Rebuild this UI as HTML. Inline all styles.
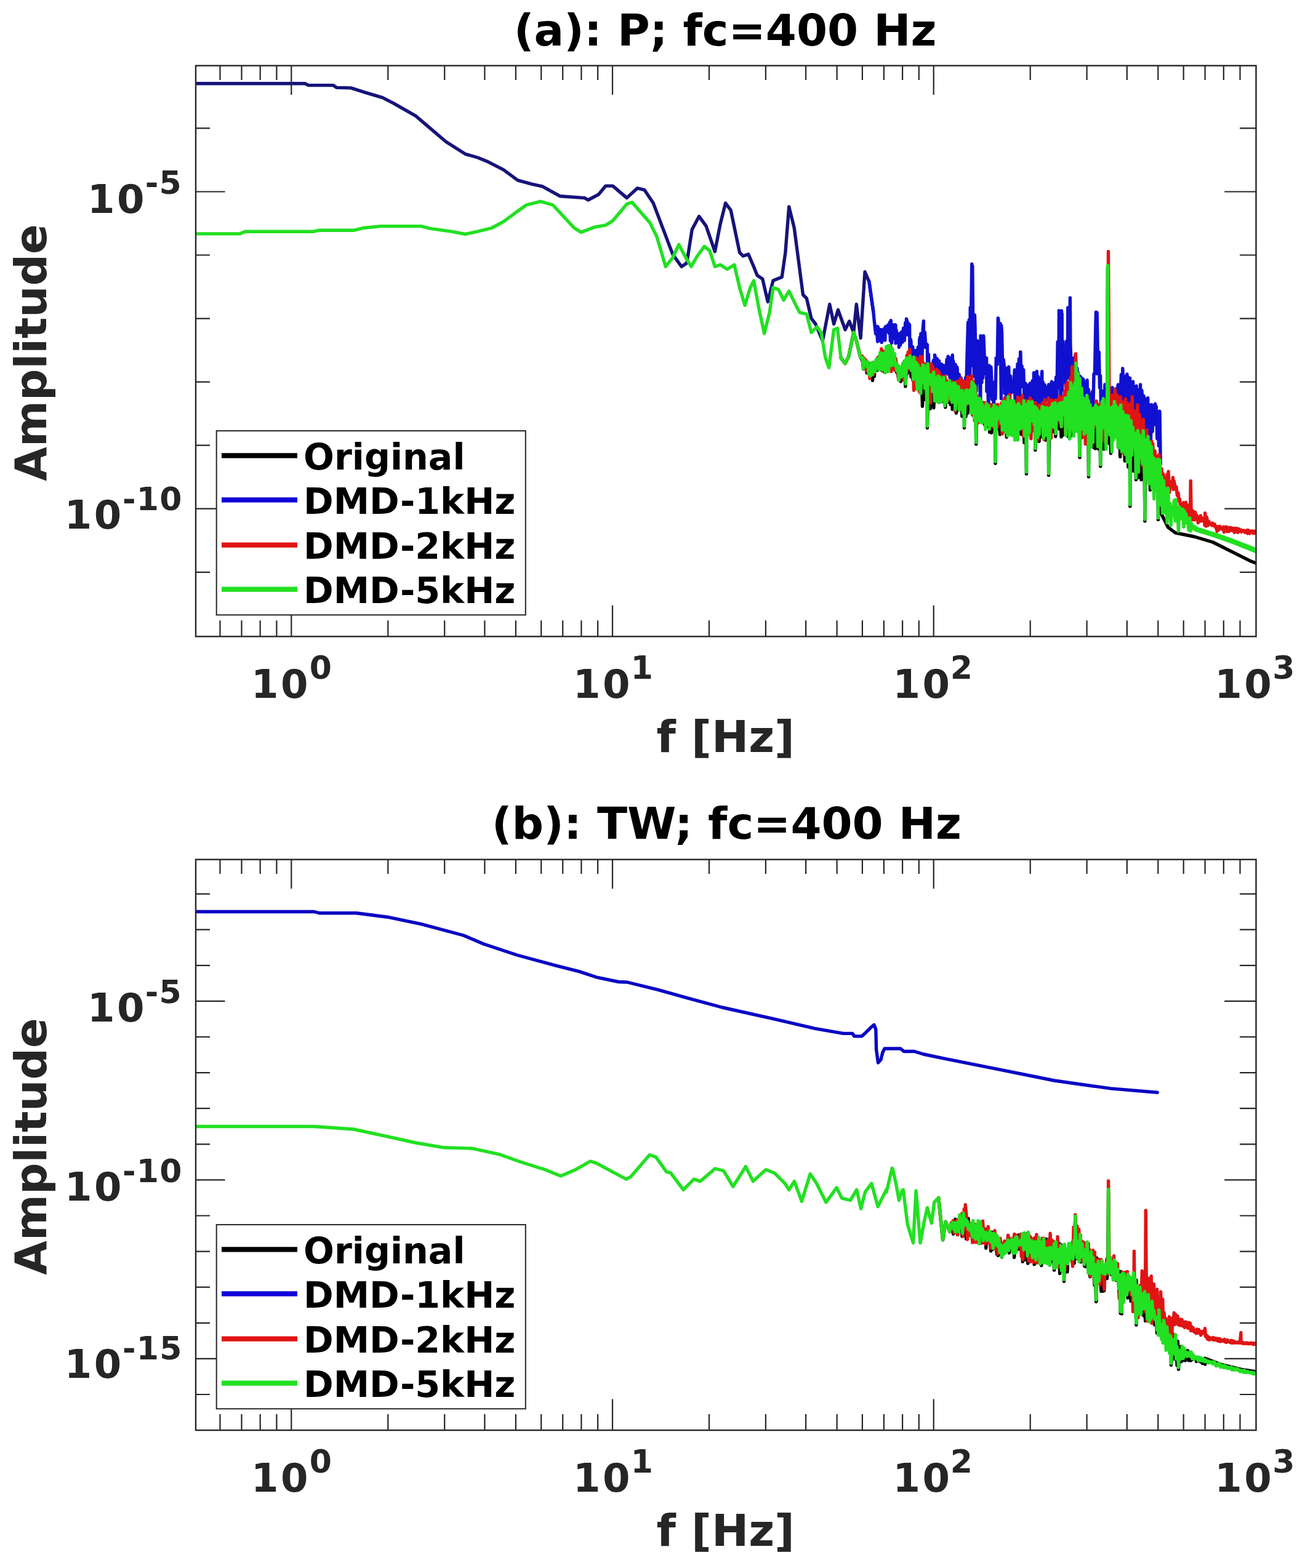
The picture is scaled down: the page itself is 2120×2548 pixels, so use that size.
<!DOCTYPE html>
<html><head><meta charset="utf-8"><title>DMD spectra</title>
<style>html,body{margin:0;padding:0;background:#fff;}body{width:2120px;height:2548px;overflow:hidden;}svg{display:block;}</style>
</head><body>
<svg width="2120" height="2548" viewBox="0 0 2120 2548">
<rect x="0" y="0" width="2120" height="2548" fill="#fff"/>
<defs>
<clipPath id="clipa"><rect x="318" y="106.7" width="1722.5" height="927.6"/></clipPath>
<clipPath id="clipb"><rect x="318" y="1396.7" width="1722.5" height="927.4"/></clipPath>
</defs>
<g clip-path="url(#clipa)">
<path d="M1366.1 581.5 L1373 590.6 L1378.7 579.2 L1386.7 540.3 L1391.3 554 L1398.1 581.5 L1401 585.8 L1402.6 599.5 L1403.6 584.5 L1404.8 598.2 L1406.6 594.1 L1408.1 606 L1409.7 592 L1411 604.7 L1412.9 594.3 L1414.6 606.2 L1416.2 596.1 L1417.5 618.3 L1418.4 590.8 L1420.3 611.7 L1421.2 601 L1423.1 599.2 L1424.4 583.7 L1425.6 601.8 L1426.6 587.2 L1427.5 593.2 L1429.3 579.9 L1430.6 599.6 L1432 576.1 L1432.8 602.2 L1434.8 585.7 L1436.3 594.1 L1437.6 579.9 L1439.2 588 L1440.3 572.4 L1441.7 603.4 L1443.1 564.2 L1444.9 592.9 L1446.3 568.5 L1447.6 594.3 L1449.3 569.1 L1450.8 592.1 L1452.4 574.6 L1453.5 601 L1455.1 585.5 L1456.4 604.8 L1457.6 599.2 L1459.5 614.5 L1461.4 600.2 L1463.3 620.1 L1464.3 609.9 L1466.2 610.7 L1467.3 604.8 L1468.6 612.3 L1469.4 586.9 L1470.9 627.9 L1472.9 588.7 L1473.8 607.6 L1475.5 592.9 L1477 603.9 L1478.5 583 L1480 612.3 L1481.9 603.2 L1482.9 617.6 L1484.8 590.5 L1486.7 630.6 L1488.3 607.7 L1489.4 626.9 L1490.5 610.5 L1492.1 625.8 L1493.9 604.7 L1495 637.8 L1497 607.5 L1498.5 660.2 L1500.4 613.4 L1501.7 649.2 L1503.6 614 L1505.1 640.2 L1506.3 616 L1506.4 695.3 L1507.8 628.4 L1509.4 627 L1511.2 664.1 L1513 619.7 L1514.8 645.3 L1515.7 615.4 L1516.9 662.7 L1518.5 621 L1520 636.5 L1521.5 625.4 L1522.8 639.9 L1524.1 617 L1525.7 636.7 L1526.6 617.5 L1528.2 653 L1529.8 632.6 L1531.1 635.6 L1532.4 624 L1533.5 653.5 L1534.7 621.4 L1535.9 661.8 L1536.8 625.5 L1537.9 644.4 L1539.2 624.6 L1541.1 653.5 L1542.7 624.6 L1544.1 657.4 L1545.9 627.2 L1547.2 665.1 L1549 627.4 L1550.4 664.2 L1551.7 637.7 L1553.3 671.3 L1554.8 640.6 L1556 666.9 L1557.2 639.4 L1558.5 658.2 L1559.4 636.4 L1560.9 658.9 L1561.8 650.1 L1562.9 676.3 L1564.5 644.5 L1566.3 677.2 L1566.5 695.3 L1567.5 636 L1569 677.1 L1570.6 648.1 L1571.9 671.5 L1573 636.8 L1574.3 664.3 L1575.5 645.6 L1576.6 657.9 L1577.7 649.3 L1579.1 651.6 L1580.9 644.8 L1582.7 666.6 L1584.3 638.9 L1585.3 687.9 L1585.8 721.8 L1587.1 647.3 L1588.9 669.5 L1590.1 649 L1591.1 674.7 L1592.8 657.1 L1593.8 677.3 L1595 670.6 L1596.5 677.2 L1598.1 666.3 L1599.5 690.1 L1601.1 673.5 L1602.5 693.8 L1603.8 670.6 L1605.1 688.8 L1606.5 672.8 L1607.7 702.1 L1609.1 676.2 L1610.7 703.5 L1612.3 668 L1613.6 695.2 L1615.3 676.4 L1616.2 681.4 L1617 753 L1617.2 660.1 L1618.1 679.9 L1619.2 660.3 L1620.8 696.3 L1622.8 678.7 L1624.4 706 L1625.3 661 L1627.2 692.8 L1628.2 671.6 L1629.6 695 L1630.8 655.7 L1631.7 697.4 L1633.6 675.1 L1635.3 710.3 L1636.5 652.2 L1638.4 699 L1640 645.8 L1641.1 696 L1642.8 673.3 L1644.4 692.6 L1645.7 676.4 L1647.7 699.9 L1648.7 671 L1650.2 695.7 L1651.3 663.7 L1652.8 687 L1654.2 680.9 L1655.9 691.7 L1657.2 655.2 L1658.9 705.7 L1659.9 668.7 L1661.4 703.7 L1662.7 661.4 L1663.9 719.3 L1665.1 667.3 L1666.5 688.8 L1667.5 769.9 L1667.8 658.3 L1669 695.9 L1670.2 680.5 L1671.4 694.7 L1673 664.3 L1674.4 706.5 L1675.3 673.2 L1676.3 692.3 L1678 683.3 L1679.6 690 L1680.9 663.6 L1681.9 731.4 L1682.7 692.7 L1683.8 674.6 L1685.3 705.4 L1686.7 684.4 L1688.1 717.3 L1689.3 671.5 L1690.6 710 L1692.3 666.4 L1693.7 710.5 L1695.1 678.5 L1696.6 710.2 L1697.9 669.1 L1698.7 715.2 L1700.4 670.2 L1702.4 714.4 L1703.4 680.9 L1703.6 772.3 L1704.7 694.8 L1705.8 668.8 L1706.7 685.6 L1707.7 665.3 L1708.7 687.2 L1710.5 666.1 L1711.9 701.7 L1713.8 658.6 L1714.8 709.3 L1716.7 678.6 L1718.1 692 L1719.2 677.1 L1720.9 697.3 L1722.6 656.9 L1724 709.9 L1725 665.2 L1726.1 707.7 L1727.8 663.8 L1729.2 675.4 L1730.6 652.1 L1731.8 676.4 L1733.7 653.3 L1735.2 709.1 L1737 647.6 L1738.5 709.4 L1739.7 658 L1740.6 706.6 L1742 641 L1744 670.3 L1745.3 646.1 L1747 690.6 L1748 593 L1748.7 642.1 L1750.5 700.5 L1751.7 624.4 L1752.7 669 L1753.5 660.7 L1754.1 743.4 L1754.5 699.9 L1755.5 661.6 L1757 675.6 L1758.7 661.2 L1760.7 683.9 L1762 658.5 L1763.1 705.8 L1764.7 668.1 L1766.5 718.2 L1767.7 674.2 L1768.5 774.7 L1769 693.2 L1769.9 671.8 L1771.1 690.8 L1772.5 666.2 L1773.7 712.6 L1775.1 672.4 L1777.1 727.4 L1778.3 686.2 L1779.4 728.9 L1780.4 669.5 L1782.2 717.6 L1783.9 662.9 L1784.8 729.7 L1785.8 660.1 L1787.1 723.6 L1787.7 757.8 L1788.7 687.2 L1790.4 706 L1792.3 659.5 L1793.2 729.8 L1795 673 L1796.4 696 L1797.4 650.8 L1798.4 709.7 L1799.5 434.5 L1800.2 685.1 L1801.6 720.3 L1803 679.8 L1804.6 736.7 L1806.4 677 L1807.9 698.5 L1809.3 668.6 L1810.3 701 L1811.6 658.2 L1813.2 708.3 L1815.1 679.7 L1816.5 714.9 L1817.8 662.2 L1819.7 742.3 L1821.3 685.5 L1822.3 726.9 L1823.3 675.6 L1824.8 712.2 L1825.9 695.2 L1827.3 749 L1828.3 674.2 L1830.2 739.1 L1831.8 697 L1832.8 758.7 L1834.2 713.3 L1835.2 730.1 L1835.8 822.7 L1836.7 693.1 L1838.5 733.5 L1839.4 694.3 L1840.6 765.2 L1842.4 715 L1843.7 729.7 L1845.4 779.5 L1845.5 697.1 L1846.5 750.4 L1848.3 700.6 L1849.2 776 L1850.1 723.2 L1851.1 749.1 L1852.2 712.8 L1854 779.6 L1855.5 702.3 L1856.5 755.9 L1858.2 739.9 L1859.1 761.5 L1859.9 846.8 L1861 711.7 L1862 761.9 L1863.8 719.8 L1865.4 759.4 L1867 721.1 L1868.5 796.2 L1870.4 738.1 L1872.3 785.1 L1874.2 764.3 L1876.2 776.3 L1877.3 760.8 L1879.1 788.9 L1880.8 758.6 L1881.5 844.4 L1881.7 784.9 L1882.5 752.1 L1884.4 817.9 L1885.4 832.5 L1897.5 856.8 L1909.5 865.9 L1939.9 872 L1970.2 881 L2030.8 911.4 L2040 915" fill="none" stroke="#000" stroke-width="5.4" stroke-linejoin="round" stroke-linecap="round"/>
<path d="M318 135.8 L495.4 135.8 L501.2 138.6 L541.2 138.6 L547 142.4 L569.9 142.9 L592.8 150.1 L621.4 158.7 L638.5 167.3 L675.8 188.7 L695.8 205.9 L724.4 230.2 L755.9 250.3 L775.9 256 L793.1 263.1 L818 275.8 L840.9 292.9 L863.8 299.2 L881 302.9 L909.6 318.7 L949.7 321.6 L955.4 325 L972.6 315.8 L984 302.1 L995.4 302.1 L1018.3 321.6 L1035.5 305.8 L1047 308.7 L1061.3 330.1 L1092.8 413.1 L1107.1 433.2 L1115.7 427.4 L1124.2 373.1 L1135.7 351.6 L1147.1 367.3 L1161.4 408.8 L1170 364.5 L1178.6 330.1 L1187.2 341.6 L1201.5 410.3 L1207.2 416 L1215.8 413.1 L1224.4 433.2 L1230.1 447.5 L1238.7 453.2 L1247.3 490.4 L1255.9 456.1 L1270.2 450.3 L1275.9 410.3 L1281.7 335.9 L1290.2 370.2 L1304.5 479 L1310.3 484.7 L1318 517.4 L1324.9 526.5 L1336.3 554 L1347.8 494.5 L1354.6 526.5 L1361.5 503.6 L1373 535.7 L1379.8 522 L1386.7 540.3 L1391.3 494.5 L1398.1 549.4 L1405 441.8 L1411.9 457.8 L1418.7 505.9" fill="none" stroke="#17137a" stroke-width="5.4" stroke-linejoin="round" stroke-linecap="round"/>
<path d="M1411.9 457.8 L1418.7 505.9 L1421 528.5 L1422.6 542.5 L1424 530.4 L1425.7 555 L1425.9 530.7 L1427.1 533.7 L1428.2 540.4 L1429.5 535.7 L1430.4 554.1 L1431.5 535.9 L1432.2 535.7 L1432.4 556.4 L1434.1 537 L1435.6 540.1 L1436.8 533.7 L1437.8 553 L1438.5 530.7 L1439 530.6 L1440.8 538.3 L1442.7 527.9 L1444.1 541.5 L1445.5 523.7 L1446.4 553.9 L1447.3 520.6 L1447.5 525.1 L1448.6 557.6 L1450.4 527.7 L1452.1 549.9 L1453.8 527.6 L1454.9 528.2 L1455.1 557.7 L1456.2 536.5 L1458 552.9 L1459.3 543.8 L1459.9 544.5 L1460.5 564.3 L1461.8 541.8 L1462.8 560.5 L1464.7 539.5 L1466.1 556 L1467.5 533.2 L1467.8 533.4 L1469.3 553.3 L1470.8 524.2 L1471.9 544.1 L1472.5 518.1 L1473.8 522.8 L1475.3 544.2 L1476.2 525.8 L1477.6 528.2 L1478 572.6 L1479.2 551.4 L1480 555.3 L1480.8 598.3 L1482.7 563.4 L1484.7 606.5 L1486.2 573.3 L1487.2 569.7 L1487.6 593.2 L1488.7 571.7 L1489.7 580.8 L1491.5 564.1 L1492.8 611 L1493.7 552.8 L1494.4 548.1 L1494.9 587.8 L1495.9 542.2 L1497.2 608.7 L1499.1 537 L1500.4 521.6 L1500.5 564.3 L1502.4 540 L1504 564.7 L1505.1 559 L1506.4 560.1 L1506.8 611.4 L1508.4 575.6 L1509.9 620.3 L1511 593 L1511.3 591.4 L1512.2 622.9 L1513 592.1 L1514.9 598.7 L1516.4 585.8 L1518.2 616.1 L1518.5 576.9 L1519.4 581.4 L1521.3 629.8 L1522.3 582.7 L1523.2 599.4 L1524.6 586.1 L1525.7 586.5 L1526.4 623.8 L1527.4 592.1 L1528.6 619.9 L1529.6 591.7 L1530.7 617.9 L1532.3 597 L1532.9 593.8 L1533.2 630.7 L1535 595.5 L1536.8 603.5 L1538.1 583.9 L1539.8 607.7 L1540.1 579.3 L1541.5 581.4 L1543.1 613.7 L1544 582 L1545.1 642 L1546.3 582.5 L1547.3 576.9 L1547.8 644.8 L1548.7 586.7 L1550.1 636 L1552.1 592.3 L1553.7 631.4 L1554.5 596.2 L1555.1 598.3 L1556.9 653.1 L1558.1 608.2 L1560.1 628.5 L1561 614 L1561.7 615.4 L1562.8 653.9 L1564.1 626.7 L1565 652.7 L1566.3 632.3 L1567.6 648.1 L1567.8 634.6 L1568.7 613.7 L1570 617 L1571.6 558.6 L1572.6 524 L1573.3 600.8 L1574.4 519.8 L1575.8 610.3 L1576.2 500 L1577.7 504.4 L1578.8 429 L1579.1 594.1 L1579.8 432 L1580.7 525.4 L1582.4 611.5 L1583.4 512 L1584.1 532.3 L1585.9 635.5 L1587.5 553.7 L1588.2 555.3 L1589.4 621.5 L1590.9 565.3 L1592.8 675 L1593 545.7 L1593.7 551.8 L1594.9 621.4 L1595.9 556.7 L1596.8 614 L1597.8 545.7 L1598.7 566.7 L1600.1 607.4 L1602 588 L1602.6 581.7 L1603 636 L1604.6 595.6 L1605.7 679.7 L1606.9 593.9 L1608.7 630.5 L1609.8 596.2 L1610.3 603.1 L1611.8 648.8 L1613.1 633.8 L1614.5 665.7 L1614.6 639.4 L1616 620.5 L1617 647.9 L1618.2 585.7 L1618.2 581.7 L1620.1 592.4 L1621.3 517 L1621.8 541.3 L1621.8 518 L1623.5 571.9 L1624.9 525.7 L1626.4 647.6 L1626.7 528.8 L1627.5 540.8 L1628.9 603.1 L1630.1 584.1 L1631.5 596.2 L1632 638.9 L1633 605.1 L1634.7 645.2 L1635.6 598.2 L1636.9 645.4 L1638 604.9 L1638.7 596.2 L1639.8 666.7 L1641.6 611 L1643.1 637.8 L1643.5 620.2 L1645 621 L1646.6 637 L1647.6 612.8 L1648.3 601 L1649.1 656.4 L1650.4 606.3 L1651.7 634.7 L1652.9 595.6 L1653.1 591.4 L1654.4 670.1 L1655.4 583.3 L1656.8 654.4 L1657.7 572 L1657.8 576.7 L1657.9 572.1 L1658.7 609.6 L1660.1 594.8 L1661.7 628.6 L1662.6 611.3 L1662.7 601 L1664.1 648.4 L1665.7 622.6 L1667.1 642.2 L1667.5 625 L1668.9 626.7 L1669.8 653.5 L1671.2 629.9 L1672.3 666.5 L1672.3 625 L1673.6 622.9 L1675.4 670 L1677.3 618.6 L1678.4 668.5 L1679.5 605.8 L1680.2 611.4 L1682.1 679.4 L1683.4 614.8 L1684.4 603.4 L1685.3 671.2 L1686.1 611.7 L1687.6 663.5 L1689.2 615.4 L1689.3 621.6 L1690.3 680.7 L1691.8 617 L1692.8 603.4 L1692.9 685.2 L1694.3 621.2 L1696 681.3 L1696.4 625 L1697.2 625.8 L1698.5 650.8 L1700 632.4 L1701.2 648.4 L1702.1 628.8 L1703.6 643.7 L1703.6 625 L1705.2 625.3 L1706.1 679.7 L1707.5 629.3 L1708.4 620.2 L1709 643.6 L1710.1 622.5 L1711.6 670.4 L1713.3 621.6 L1714.4 653.4 L1715.6 613 L1715.7 615.9 L1716.8 648.3 L1718.2 555.5 L1719.9 630.3 L1720.4 504.8 L1721.7 524.8 L1723.3 672.8 L1724.5 505 L1724.6 518.6 L1725.2 509.6 L1725.5 634.2 L1726.9 554.9 L1728.9 619.9 L1730 611.8 L1730 605.8 L1731.7 628.9 L1732.6 554.5 L1734.4 605.4 L1734.8 500 L1735.8 518.9 L1737.3 615 L1738.4 484 L1738.9 559.1 L1740.6 607.2 L1741.7 585 L1742 581.7 L1743.5 629.2 L1744.5 585.6 L1746.4 596.2 L1746.9 576.9 L1747.5 585.8 L1748.5 626.9 L1749.7 597.9 L1750.9 615.9 L1751.7 605.8 L1751.9 608.3 L1753.6 621 L1755.2 611.8 L1756.7 627.5 L1757.8 614.6 L1758.7 638.5 L1758.9 615.4 L1760 616.4 L1761.8 644.6 L1762.7 620.9 L1764.2 643.5 L1765.6 624.4 L1766.1 617.8 L1766.9 656.1 L1768.4 632.9 L1769.6 667.2 L1770.9 644.2 L1771.2 645.8 L1772.6 657 L1774.3 637.5 L1775.7 634.6 L1775.9 660.6 L1777 607.9 L1778.5 604.9 L1779.9 528.4 L1780.5 507.2 L1781.6 607.2 L1782.1 508 L1782.8 542.8 L1783.7 606.6 L1784.7 574.7 L1785.3 572.1 L1786.5 630 L1787.5 610.1 L1788.4 652.4 L1790.1 645.1 L1790.1 644.2 L1791.8 661.6 L1792.7 635.4 L1794.2 644.4 L1794.9 625 L1795.3 629.3 L1797 657.3 L1798.6 626.5 L1799.8 651.4 L1801.6 630.2 L1803.4 643.3 L1804.8 635.1 L1806.5 661.7 L1807 629.8 L1807.5 635.9 L1808.4 674.3 L1810.2 633.4 L1811.6 647.6 L1812.8 631.8 L1814.4 655 L1816.1 625.7 L1816.6 625 L1817.3 642.7 L1818.5 625.4 L1820.2 640.6 L1821.4 608.8 L1822.9 653.9 L1823.8 598.6 L1824 604 L1825.8 655.4 L1827.5 612 L1828.8 668.3 L1830.1 609.7 L1831 608.2 L1831.5 656 L1832.7 612.9 L1834.5 668.3 L1835.6 614.4 L1836.7 700.6 L1837.9 626.3 L1839 689.8 L1840.3 630.4 L1840.6 620.2 L1841.8 674.3 L1842.9 629.6 L1844.7 696.6 L1846.1 627.1 L1847.9 708.2 L1848.9 633.2 L1850.6 697.9 L1852.5 637.5 L1852.6 625 L1853.7 721.3 L1854.9 634.4 L1856.8 671.2 L1858.1 643.5 L1859.2 681.4 L1861 648.3 L1862.6 719.2 L1864.5 658.1 L1864.7 646.7 L1866.2 736.2 L1867.6 658.6 L1869 740.6 L1870.6 657.5 L1872.2 701.1 L1873.2 659.1 L1874.2 683.8 L1875.1 661.7 L1876.7 656.3 L1876.8 689.9 L1878.4 660.7 L1879.8 712.7 L1881.1 674.5 L1882.4 724.4 L1883.9 668.3 L1884.1 671.2 L1885.3 753.6" fill="none" stroke="#1010d0" stroke-width="5.4" stroke-linejoin="round" stroke-linecap="round"/>
<path d="M1366.1 581.5 L1373 590.6 L1378.7 579.2 L1386.7 540.3 L1391.3 554 L1398.1 581.5 L1401 578.8 L1402 591 L1403.6 581.9 L1404.5 591.9 L1406.2 584.6 L1407.9 602.8 L1408.9 589.1 L1410.2 601.9 L1412.2 590.4 L1413 614.8 L1414.3 591.3 L1415.6 604.8 L1417.5 589 L1418.5 609.2 L1420 591.7 L1421.8 600 L1422.8 586.5 L1424.8 587.4 L1426.5 580.5 L1428 587.1 L1429.8 575.1 L1430.8 595.5 L1431.9 566.8 L1433.1 586.7 L1434.4 570.3 L1436.2 604.6 L1438.1 572 L1439.8 584.8 L1440.9 567.4 L1442.3 594.8 L1443.3 562.3 L1445.1 591.7 L1446.8 562.4 L1448 603.6 L1449.6 573 L1450.7 592 L1452.4 574.5 L1454.1 601 L1455.1 582.5 L1457 598.8 L1458.1 593.4 L1459.7 616.7 L1461.1 597.6 L1462.8 611.5 L1464.1 600.4 L1465.6 604.1 L1466.6 591.2 L1468.3 617.9 L1470.2 588 L1471.3 617.4 L1473.3 577.1 L1474.1 601 L1475.3 572.2 L1476.2 589.9 L1478 567.6 L1479.5 597.7 L1480.6 582.7 L1481.7 600.3 L1483.1 582.2 L1484.5 634.3 L1485.8 581.1 L1487.4 618.4 L1489.1 581.6 L1490.1 603.6 L1491.8 586.9 L1493.7 637 L1495.2 579.3 L1497 608.3 L1498.3 579.9 L1499.6 621.3 L1500.9 590.5 L1502.3 619.7 L1504 592.4 L1505.8 609 L1507.3 597.7 L1508.5 620.1 L1510.2 591.3 L1511.5 654.6 L1512.8 591.1 L1513.8 629.4 L1515.5 596.1 L1517.2 616.4 L1518.3 602 L1519.7 637.5 L1521.6 600.3 L1522.6 617.7 L1524 602.8 L1525.3 618 L1526.2 605.7 L1527.9 630.3 L1529.7 611.1 L1531 649.7 L1532.1 613.6 L1533.9 643.1 L1535.1 611.4 L1536.6 632.9 L1537.9 618.3 L1539.8 651.1 L1541.2 623 L1542.4 642.8 L1544 621.5 L1545 644.9 L1546.8 619.9 L1548.4 634.4 L1550.3 625.9 L1551.6 667.4 L1553.3 620.1 L1554.4 651.6 L1556.4 619.1 L1557.3 645.2 L1558.1 621 L1559.6 650.4 L1560.6 615.2 L1562.3 650.7 L1563.7 618.9 L1565.3 671.7 L1567.1 620.5 L1568.3 638.5 L1569.2 621.4 L1570.1 657.9 L1572 612.5 L1573.3 650.8 L1575.2 616.2 L1577 630.4 L1578.6 610.9 L1579.9 674.7 L1581.6 620.2 L1583.2 683.1 L1584.5 629.3 L1586.3 667.4 L1587.3 643.1 L1589.1 687.3 L1590.1 647.4 L1591.2 670.9 L1593.1 650.8 L1594.3 671.2 L1595.6 655.6 L1596.8 670.6 L1597.9 654 L1599.8 672.6 L1601.4 654.7 L1603.2 676.2 L1604.9 657.5 L1605.8 670.6 L1607.5 658.3 L1608.9 679.4 L1610.5 657.5 L1611.5 688.1 L1612.6 661 L1614.1 694.4 L1615.1 659.5 L1616.6 697.5 L1618.4 657.7 L1619.9 695.1 L1621.1 657.4 L1622.8 689.2 L1624.2 660.5 L1626.2 676 L1627.1 654.6 L1628.1 705 L1629.5 650.9 L1631.2 701.8 L1632.2 646.5 L1633.3 682.4 L1634.3 650.1 L1635.5 678.2 L1637.3 648.1 L1638.6 685.4 L1640.1 641.3 L1641.1 705.5 L1642.2 650.8 L1643.8 693.6 L1645 655.6 L1646.8 669.8 L1648.6 655.4 L1649.8 675.4 L1650.7 656.9 L1652.5 683.6 L1653.6 645.1 L1654.9 680.5 L1655.8 647.3 L1657.5 667.7 L1658.8 649.1 L1659.8 665.5 L1660.8 642.6 L1662.7 708.9 L1664.3 654.2 L1665.5 676.9 L1667.3 651.5 L1669.2 683.8 L1670.5 654.9 L1672.3 675.2 L1673.5 646.8 L1674.9 712.7 L1676.4 650.6 L1678 700 L1679 662.4 L1680.6 693.2 L1681.8 654.2 L1683.2 688.3 L1684.3 661.9 L1685.8 714.4 L1687.8 658.4 L1689.4 688.1 L1690.7 658.7 L1692.7 672.2 L1694 654.5 L1695.8 714 L1697.1 649.8 L1698.6 696.2 L1700.2 658 L1701.6 693.4 L1703.3 646.7 L1704.4 699.1 L1706.4 658 L1707.5 711.7 L1708.7 650.3 L1709.7 693.3 L1711 652.6 L1712.9 669.3 L1714.4 650.1 L1715.6 663.8 L1717.5 650.3 L1719 665.9 L1720.9 644.3 L1722.2 687 L1723.6 648.8 L1724.9 692.8 L1726.6 644.7 L1727.7 672.7 L1729.6 635.3 L1730.8 704.9 L1731.8 625.8 L1732.7 691.3 L1734.1 621.4 L1735.4 660.4 L1737.1 623.3 L1738.3 704.3 L1739.2 613.8 L1740.2 642.8 L1741.7 596 L1742.6 640.3 L1743.9 609.1 L1745.1 635.4 L1746.8 602.2 L1747.5 575 L1748.7 632.4 L1749.7 605.3 L1751.7 682.8 L1753.5 619.1 L1754.9 699.6 L1756 637.1 L1757.7 711.4 L1759.4 652.2 L1761.3 702.3 L1762.4 650 L1763.3 721.5 L1764.8 662 L1766.6 712.5 L1767.9 669.6 L1768.9 694.2 L1770.1 672.2 L1771.7 709.4 L1772.9 663.2 L1774.2 680.8 L1775.5 668.6 L1777.2 688.9 L1778.6 663.1 L1779.7 693.3 L1781.2 651.7 L1783 672.2 L1784.9 657.2 L1786.1 687.3 L1787.9 657.2 L1789 688.6 L1790 655.4 L1791.3 688.4 L1792.9 648.2 L1793.9 716.8 L1795.7 655.8 L1797.2 712.8 L1799 639.4 L1800.2 689.6 L1800.5 408.8 L1801.9 642.8 L1803.5 682.4 L1805.4 642 L1806.9 708.6 L1808.7 642.3 L1809.8 695.2 L1811.3 632.8 L1813 687.2 L1814.9 641.8 L1816.8 720.2 L1818.1 651.2 L1818.9 675 L1820.4 644.6 L1821.7 723.6 L1823.1 653.2 L1824.8 736.2 L1825.7 659.9 L1827.4 692.9 L1828.3 648.2 L1829.3 720.4 L1831.2 655 L1832.4 691.2 L1834.3 656.7 L1835.4 752.1 L1836.7 667.2 L1838.1 700.5 L1839.2 644.6 L1840.9 708.4 L1842.6 667.9 L1843.9 728.5 L1845.5 668.3 L1846.8 707.2 L1847.9 657.9 L1849.5 748.2 L1851.2 673.5 L1852.8 746.9 L1854.6 684.4 L1856.2 756.7 L1857.3 681.5 L1859.1 769.1 L1860.5 708.5 L1861.5 776.5 L1862.9 698.8 L1863.9 731.4 L1864.9 717.6 L1866.3 736.9 L1867.7 725 L1869.4 758.7 L1870.8 716.7 L1871.9 787.3 L1872.8 721.3 L1874.7 798.2 L1876.2 732.8 L1878.1 768.9 L1880 741.1 L1881.4 765.3 L1882.9 738.6 L1884.8 779 L1887 761.8 L1888.1 785.9 L1889.9 770.3 L1891.6 781.6 L1893 777.1 L1894.4 802.5 L1896.2 770.8 L1897.1 798.2 L1898.1 766.1 L1899.7 800.4 L1901.5 783 L1902.6 786.5 L1903.5 785.6 L1904.5 790 L1905.4 775.9 L1906.2 795.3 L1907.3 781.7 L1909.2 794.7 L1910.9 791.1 L1912.4 805.3 L1914.1 801.1 L1915.2 814.4 L1916.3 810.5 L1918.2 828.4 L1919.2 819.7 L1920.9 829.5 L1922.5 816.8 L1923.4 833.1 L1924.3 818.7 L1925.6 827.7 L1926.5 816.1 L1928.4 835.5 L1930.3 820.9 L1932.2 840.3 L1933.7 824.4 L1934.2 781.5 L1935.2 833.6 L1936.4 828.9 L1937.5 844.5 L1938.9 831.1 L1940.6 844.8 L1941.6 832.1 L1942.5 839.4 L1944.4 837.3 L1946.3 849.5 L1947.5 841.3 L1949.4 847 L1950.3 837.9 L1951.3 846.7 L1952.3 841.4 L1954.2 846.2 L1955.9 842.1 L1957.3 853.9 L1957.7 833.6 L1958.6 844.7 L1959.4 855 L1960.5 840.5 L1962.3 853.9 L1963.9 847.4 L1965.2 850.6 L1966.4 850.2 L1968.3 853.8 L1969.6 850 L1971.5 854.3 L1973.3 851.8 L1974.7 857 L1975.7 855.7 L1977.1 863.4 L1978.9 855.7 L1979.8 861.1 L1981.7 855.2 L1982.7 858.8 L1984.6 857.8 L1985.7 860.2 L1987.4 856.4 L1988.4 864.7 L1989.9 856.4 L1990.8 862.1 L1992.5 856.2 L1993.4 863.7 L1995.3 857.6 L1996.7 863.6 L1998.1 857.3 L1999.2 861.7 L2000.3 857.5 L2001.6 861.9 L2003.4 858.7 L2005.3 865.2 L2006.4 858.5 L2007.9 863.7 L2009.3 858.7 L2010.8 865.3 L2012.1 859.4 L2014 863.3 L2015.9 861.2 L2016.8 864.3 L2017.8 861.7 L2019.1 862.8 L2021 862 L2022.5 865.2 L2023.5 862.8 L2024.6 865.2 L2026 861.6 L2026.9 866.9 L2028.3 861.7 L2030.1 866.9 L2031.7 863.4 L2033 864.1 L2034.2 862.8 L2035.9 866.8 L2037.5 863.2 L2039 866.4 L2039.9 863.3" fill="none" stroke="#e01414" stroke-width="5.4" stroke-linejoin="round" stroke-linecap="round"/>
<path d="M318 379.9 L389.6 379.9 L398.1 376.2 L509.8 376.2 L518.3 374.2 L575.6 374.2 L589.9 370.5 L618.5 367.6 L684.3 367.6 L698.7 371.3 L733 376.2 L755.9 380.5 L775.9 376.2 L798.8 370.5 L818 360.2 L835.2 347.3 L855.2 333 L878.1 327.3 L898.1 333 L932.5 370.2 L943.9 377.4 L966.8 368.8 L984 365.9 L995.4 358.8 L1018.3 331.6 L1026.9 328.7 L1035.5 338.7 L1055.6 361.6 L1067 384.5 L1081.3 433.2 L1092.8 418.9 L1102.8 397.4 L1115.7 421.7 L1122.8 433.2 L1132.8 416 L1144.3 400.3 L1152.9 407.4 L1161.4 433.2 L1170 430.3 L1181.5 437.5 L1192.9 430.3 L1201.5 467.5 L1210.1 496.1 L1218.7 467.5 L1224.4 456.1 L1233 501.9 L1241.6 541.9 L1250.2 507.6 L1255.9 467.5 L1264.5 470.4 L1273.1 487.6 L1281.7 473.2 L1298.8 507.6 L1310.3 510.4 L1318 540.3 L1327.2 531.1 L1334 540.3 L1340.9 581.5 L1346.6 597.5 L1354.6 535.7 L1360.4 533.4 L1366.1 581.5 L1373 590.6 L1378.7 579.2 L1386.7 540.3 L1391.3 554 L1398.1 581.5 L1401 580.9 L1402.5 599 L1403.8 584.2 L1405.3 593.1 L1406.7 588 L1408.5 595.6 L1409.6 588 L1411.4 608.6 L1412.3 596.1 L1414.2 610.7 L1415.7 590.2 L1416.6 608.7 L1417.5 589.1 L1418.6 598.4 L1420 589.2 L1421.7 604.3 L1423.3 584.4 L1424.9 596.3 L1426 583.1 L1428 600.9 L1429.6 573 L1430.7 587.9 L1431.6 574.2 L1432.9 601.2 L1434.2 574.8 L1436 578.9 L1437.1 573.5 L1438.4 605.7 L1439.7 563.5 L1441.3 598.9 L1442.4 562 L1443.6 603.2 L1445.3 561.4 L1446.4 579.4 L1447.3 570.8 L1448.4 594.1 L1449.7 566.6 L1451.4 585.2 L1452.9 574.3 L1454.2 594.5 L1455.4 590.1 L1457.1 602.9 L1459 594 L1460.2 618 L1461.8 596.2 L1463.7 612.7 L1464.9 601 L1466.1 611.1 L1467 590 L1468.5 606.3 L1470 585.8 L1471.4 623.8 L1472.7 582 L1474.6 595.7 L1475.6 582 L1477.3 597.6 L1478.4 578.1 L1480.3 602.4 L1482.2 589.3 L1483.7 616.6 L1484.6 580.1 L1486.6 613.5 L1488.2 589.1 L1490 632.7 L1491.1 592.6 L1492.8 615 L1493.9 598.5 L1495.7 639.3 L1496.8 603 L1497.9 612.3 L1499 592.9 L1499.9 620.2 L1501.2 593.9 L1502.2 630.7 L1504 601.2 L1505.6 650.7 L1506.4 692.3 L1507.1 591.2 L1508 618.3 L1509.8 608.7 L1511.7 624.2 L1513.3 609.3 L1514.9 636.1 L1516.9 604.5 L1518.4 651.4 L1520.2 615 L1521.8 652.2 L1523.7 610.9 L1525.3 654.4 L1527.1 612.9 L1528.8 652.4 L1530.3 617.4 L1531.6 645.3 L1533.1 613.1 L1534.7 659.4 L1536.5 623.2 L1537.8 653.3 L1539.3 622.1 L1541 636.1 L1542.7 618.7 L1544.2 648.9 L1545.3 626.9 L1546.7 653.9 L1548.6 622.5 L1549.5 645.5 L1551.1 622.4 L1552.1 665.3 L1553.7 627.3 L1555.5 650.2 L1557.1 628.4 L1558.4 666.5 L1560.3 639.5 L1561.5 662.4 L1562.7 634.4 L1564.1 671.2 L1565.9 640.2 L1566.5 692.3 L1567.8 655.2 L1568.9 634.2 L1570 652.5 L1571.3 633.9 L1572.7 655.3 L1574.5 636.2 L1575.8 644.7 L1576.7 632.6 L1577.6 671.1 L1579.1 620.8 L1580.8 639.6 L1581.8 624.5 L1582.7 679.8 L1583.8 627.3 L1584.7 674.3 L1585.8 718.8 L1586 643.4 L1587.6 684.5 L1589.5 653.3 L1590.5 676.9 L1591.6 647.1 L1593 685.8 L1594 652 L1595.2 687 L1596.6 658.1 L1598.3 680.2 L1600.1 664.1 L1601 697.7 L1602.6 655.8 L1604 689.2 L1605.9 659.3 L1607.3 697.4 L1609.1 666.4 L1610.4 691.2 L1611.5 664.4 L1613.3 691.4 L1614.9 658.2 L1616.7 702.2 L1617 750 L1618.7 661.5 L1620.4 682 L1622.3 664.9 L1623.5 674.3 L1624.8 660.3 L1626.5 687.4 L1627.4 661.4 L1628.3 698.9 L1629.3 652.7 L1631.1 673.1 L1632.1 652.7 L1633.7 702.2 L1635.3 657 L1636.7 708.3 L1637.7 644.5 L1639.1 679.4 L1640.7 654.1 L1642.2 706.3 L1643.6 650.7 L1644.9 707.8 L1646.8 651.4 L1648.6 715 L1650 658.7 L1651 696.1 L1652.4 659.2 L1653.3 715 L1654.7 655.8 L1656.5 697.2 L1657.9 660.7 L1658.8 696.2 L1660.1 665.2 L1662 684.4 L1663.3 651.2 L1664.6 708.3 L1666.5 657.1 L1667.5 766.9 L1667.7 681 L1669.2 664.6 L1670.2 706.7 L1671.1 652.3 L1672.2 702.7 L1673.4 655.4 L1674.9 677.8 L1676.6 652.8 L1678 684.7 L1679 660.3 L1680.4 690.4 L1681.7 661.2 L1681.9 728.4 L1682.7 683.7 L1684.2 663.8 L1685.7 710.4 L1687.2 668.1 L1688.3 706.1 L1690 669.7 L1691.2 689.8 L1693.1 660.6 L1695.1 712.1 L1696.1 662 L1697.7 688.1 L1698.7 669.8 L1700 707.4 L1701 662.7 L1702.6 677.3 L1703.6 769.3 L1703.6 665.7 L1705.5 712.4 L1706.5 662.1 L1708.1 693.8 L1709.8 656.1 L1710.7 677.7 L1711.6 660.8 L1713 694.8 L1714 654.4 L1715 704.6 L1717 664.3 L1717.9 673.4 L1719.8 656.2 L1721.5 682.5 L1722.9 654.3 L1724.2 693.2 L1725.1 655.2 L1726.9 674 L1728.2 653 L1729.5 673.3 L1730.5 646.6 L1731.4 707.1 L1733.1 646.8 L1734.9 692.8 L1736.2 637.5 L1737.6 713.3 L1739.4 621.6 L1741.2 697.9 L1742.9 627.7 L1744.2 708.6 L1746.1 622.2 L1747.8 700.6 L1748 590 L1749.1 625.3 L1750 670.5 L1751.3 606.8 L1752.6 693.9 L1754.1 740.4 L1754.1 615.2 L1756 697.9 L1757.2 630.9 L1758.7 691.1 L1760 646.4 L1761.5 705.5 L1763.2 653.1 L1764.1 702.6 L1765.8 642.4 L1767.1 673.7 L1768.1 651.2 L1768.5 771.7 L1769.1 687.7 L1770.9 657.9 L1772.3 726.7 L1773.8 669.2 L1775.4 718.8 L1776.3 663.5 L1778 682.1 L1779.9 658.5 L1781.2 689.1 L1782.6 665.5 L1783.5 725.7 L1784.8 662 L1786.4 696.2 L1787.5 662.2 L1787.7 754.8 L1789 690.9 L1790.6 652.2 L1791.5 687.6 L1792.4 647.7 L1794.1 695.6 L1795.9 660.9 L1796.8 729.9 L1798.7 647.1 L1799.5 431.5 L1800.5 700.3 L1801.9 667.3 L1803 706.6 L1804.9 662.6 L1806.3 734.1 L1808 660.7 L1809 714.9 L1810.4 652.4 L1811.3 710.2 L1812.2 658.2 L1813.8 707 L1815 662 L1816.3 727.1 L1817.7 673.5 L1819.6 728 L1820.7 658.2 L1822.6 734.1 L1824.1 668.9 L1825.2 731.4 L1826.7 677.9 L1828.3 738.6 L1829.3 674.7 L1831.3 750.6 L1833.1 676.3 L1834 719.5 L1835.3 691.5 L1835.8 819.7 L1836.3 736.4 L1837.2 683.7 L1838.8 739.8 L1840.3 694.2 L1841.7 726 L1842.9 703.2 L1844.7 721.6 L1845.4 776.5 L1845.7 706.2 L1847.2 761.7 L1848.3 699.7 L1849.4 767 L1850.7 705.9 L1852.6 742.9 L1854.1 711 L1856 753.5 L1857.2 700 L1859 736.9 L1859.9 843.8 L1860 714.1 L1861.3 776.6 L1862.5 722.2 L1863.4 750.9 L1865 709.3 L1866.2 786.2 L1867.8 719 L1868.8 768.1 L1870.5 725.7 L1871.4 793.4 L1872.9 742.6 L1874.8 810.6 L1876.1 745.6 L1877.3 779.7 L1878.6 753.1 L1880.5 781.1 L1881.5 841.4 L1881.7 746.4 L1882.9 793.8 L1884.2 747.7 L1885.7 820.8 L1887 775.3 L1888.6 833.9 L1890.4 780.9 L1891.5 813.9 L1892.6 801.8 L1893.6 833.8 L1894.7 793.9 L1896 849.5 L1897.5 793.1 L1898.6 826.4 L1900.5 818.1 L1902.2 853.9 L1903.9 823 L1905.6 834.3 L1907.4 813.3 L1909.1 846.6 L1910.4 811.8 L1911.7 838.6 L1912.7 824.3 L1914.4 863.1 L1916 823.6 L1917.7 838.9 L1919.3 826.8 L1920.4 843.8 L1921.8 827.8 L1923.1 856.2 L1924.4 830.7 L1925.8 849.8 L1926.9 835.1 L1928.2 848.3 L1929.7 847.8 L1931 861.2 L1932.9 841.8 L1933.9 863.1 L1935.7 850.7 L1936.7 859.2 L1938.5 855.3 L1940.3 859.2 L1942 856.3" fill="none" stroke="#22e022" stroke-width="5.4" stroke-linejoin="round" stroke-linecap="round"/>
<path d="M1943 860 L1973.8 869.5 L2004.8 880.6 L2040 894.5" fill="none" stroke="#22e022" stroke-width="8.5" stroke-linejoin="round" stroke-linecap="round"/>
</g>
<g clip-path="url(#clipb)">
<path d="M1524.7 1946.4 L1531.6 2015.1 L1536.2 1985.3 L1543 2001.4 L1545 1993.6 L1545.9 1998.2 L1547 1992 L1548.6 2005.3 L1549.5 1987.2 L1550.4 1996.5 L1551.8 1981.3 L1552.9 2003.1 L1554.3 1982.2 L1555.8 2006.5 L1556.7 1989.5 L1558.3 1998.5 L1559.3 1991.2 L1560.5 1993.6 L1561.5 1989 L1563 2009 L1564.6 1982.4 L1566.6 2000 L1568 1987.1 L1569.6 2013.1 L1571 1988.4 L1571.9 2000.2 L1573.1 1980 L1574.2 1999.8 L1575.4 1993 L1576.6 2007.8 L1577.7 1990.2 L1579.6 2015.5 L1581.1 1989 L1582.7 2007.5 L1584 2004.3 L1585.6 2017.2 L1587.2 2001.7 L1588.9 2009.8 L1589.8 1991.9 L1590.9 2009.4 L1592.8 2002.3 L1594 2019.5 L1595.3 2004.1 L1596.6 2011.9 L1597.7 1999.7 L1598.9 2019.1 L1600.7 1999.5 L1601.8 2028.2 L1603.2 1997.2 L1604.1 2013.6 L1605.7 2009.7 L1607 2014.8 L1608.2 2014.4 L1609.7 2033 L1611.5 2002.1 L1613.1 2030.1 L1614.6 2007.9 L1616.1 2021.8 L1617.4 2012.6 L1619.4 2038 L1620.5 2017 L1621.5 2040.3 L1623.3 2018.7 L1624.9 2038.5 L1625.9 2028.2 L1627.4 2043 L1628.8 2021.2 L1630 2032.6 L1631.9 2028.6 L1633.6 2033.3 L1634.5 2025.4 L1636.4 2026.5 L1637.8 2009.6 L1639.5 2036 L1640.5 2014.1 L1642 2026.4 L1643.8 2014.6 L1644.9 2033 L1646.5 2012.5 L1647.7 2043.3 L1649.3 2017.3 L1650.7 2028.9 L1651.8 2015.1 L1653.3 2030.3 L1654.4 2007 L1655.9 2029.8 L1657.8 2021.6 L1658.7 2030.8 L1660.3 2008 L1661.3 2050.2 L1662.7 2013.4 L1664.5 2047.4 L1665.5 2004.5 L1666.8 2036.9 L1668.2 2019.5 L1669.8 2053 L1670.7 2013.6 L1672 2050 L1673.1 2010.4 L1674.4 2039.1 L1675.6 2013.2 L1677.5 2040.5 L1679.3 2021.4 L1680.2 2054.7 L1681.9 2030.5 L1683.8 2051.9 L1684.8 2021.7 L1685.9 2041.7 L1686.8 2020 L1688.8 2039.1 L1690.5 2022.2 L1691.8 2056.5 L1693.8 2024.4 L1695.4 2037.3 L1696.6 2032.8 L1698.1 2047.4 L1699.7 2013.4 L1701.2 2046.7 L1703 2015.1 L1704.9 2035.5 L1706 2024.5 L1707.6 2040.3 L1708.6 2031.8 L1709.7 2050.4 L1711.2 2022.5 L1712.5 2063.9 L1712.7 2049.3 L1714.6 2019.3 L1716.2 2044.2 L1717.5 2031.2 L1718.7 2048.2 L1720.4 2020.1 L1721.7 2069.5 L1723.7 2022.8 L1724.8 2051.9 L1726.6 2043.4 L1728.5 2057.8 L1728.5 2082.2 L1729.5 2043.5 L1731.1 2063.1 L1733.1 2038.1 L1733.9 2066.9 L1735.1 2037.5 L1737 2046.8 L1737.9 2023.9 L1739.4 2046 L1740.9 2028.6 L1742 2051.2 L1743.1 2017.1 L1745 2052.9 L1745.9 2007.4 L1746.8 1979.2 L1747.1 2021.3 L1748.8 2012.9 L1749.9 2045.1 L1751.4 2011.9 L1752.2 2028.3 L1754.1 2026.5 L1755.5 2050.9 L1757 2017 L1758 2041.2 L1759.8 2034.9 L1761.6 2057.4 L1762.7 2024.5 L1763.7 2058.4 L1765.5 2023.2 L1767 2045.6 L1768.9 2046 L1770.8 2074.9 L1772.7 2033.9 L1774.3 2067.5 L1776.2 2055.1 L1778 2088.2 L1779.2 2057.8 L1780.1 2094.1 L1780.6 2115.2 L1781.2 2114.3 L1781.9 2044.2 L1783.7 2081.9 L1784.9 2061.1 L1786 2067.6 L1787 2049.2 L1788.8 2098.2 L1790 2058.4 L1791.3 2098.2 L1792.7 2066.7 L1793.7 2097.5 L1794.7 2067.7 L1795.8 2070.5 L1797.2 2060.3 L1798.4 2077.8 L1799.8 2051.9 L1800.6 1935.7 L1801.3 2064.1 L1802.9 2045.6 L1804.8 2071.1 L1806.4 2057.9 L1808 2072.2 L1808.9 2058.5 L1810.1 2074.5 L1811.9 2063.2 L1813.1 2080.4 L1814.4 2060.7 L1815.6 2080.7 L1816.9 2078.3 L1818.5 2110.4 L1820 2066.3 L1820.1 2134.1 L1821.5 2087.1 L1822.4 2134.9 L1822.6 2072.1 L1824.1 2110.1 L1825.5 2073.3 L1826.6 2102.7 L1828.4 2082.7 L1829.4 2090.1 L1830.9 2079.9 L1832.1 2109.1 L1833.7 2082.5 L1834.8 2095 L1835.7 2076.9 L1837.1 2114.4 L1838 2083.4 L1839.5 2102.4 L1841.2 2075.2 L1842.3 2124.3 L1843.1 2086.9 L1844.8 2107.4 L1845.9 2153 L1846.1 2080.4 L1848.1 2130.3 L1849 2095.8 L1850.7 2129.6 L1852.5 2109.2 L1854.4 2132.9 L1856.3 2115.6 L1857.9 2138 L1859.3 2117.6 L1860.7 2146.6 L1862.4 2113.1 L1863.5 2132.9 L1865.1 2123.1 L1866.5 2147.5 L1867.6 2111.4 L1868.8 2141.1 L1870 2125.1 L1871 2143.1 L1872.6 2132.2 L1873.5 2150.4 L1875 2128.7 L1876 2152.9 L1877.9 2135.8 L1879.5 2166.3 L1881.2 2136.3 L1882.1 2158.1 L1883.7 2149.7 L1885.7 2166 L1887.3 2149.6 L1888.8 2166.8 L1889.9 2151.7 L1890.8 2173.1 L1892.4 2155.2 L1893.4 2181.6 L1894.4 2163.3 L1895.3 2183.3 L1896.8 2154.3 L1898.3 2181.9 L1899.7 2157.7 L1900.9 2188.1 L1902.1 2177.5 L1902.5 2218.3 L1903.4 2207.7 L1905.2 2167.3 L1906.1 2187.3 L1907.6 2188.9 L1908.8 2208.8 L1910.5 2186.2 L1912.2 2219.1 L1913.3 2179.5 L1914.3 2202.3 L1914.6 2225.1 L1915.9 2192.7 L1916.9 2213.5 L1918.6 2187.9 L1920.2 2212 L1921.1 2197.7 L1923 2201.3 L1923.9 2192.9 L1925.5 2211 L1926.8 2198.3 L1927.7 2208.6 L1929.3 2194.8 L1931 2210.9 L1932.5 2197.3 L1934.4 2211 L1935.7 2201.4 L1936.9 2209.4 L1938.1 2205.3 L1939.9 2207.7 L1941.8 2206.1 L1943.6 2212.5 L1944.9 2208.2 L1946.8 2211.3 L1948.6 2209.4 L1950 2213 L1951.6 2209.7 L1953.4 2215.6 L1954.3 2212.5 L1955.5 2214.9 L1957 2211.9 L1957.8 2217 L1958.9 2212.1 L1957.5 2207.2 L1983.2 2217 L2017.6 2225.5 L2040 2229" fill="none" stroke="#000" stroke-width="5.4" stroke-linejoin="round" stroke-linecap="round"/>
<path d="M318 1481.5 L510.3 1481.5 L519.5 1483.8 L579 1483.8 L629.4 1490.2 L684.3 1501.7 L753 1520 L785.1 1533.7 L840 1552 L904.1 1569.4 L940.8 1578.6 L968.3 1587.8 L1004.9 1595.5 L1018.6 1596 L1069 1608.4 L1118 1622.1 L1173 1637 L1255.4 1655.3 L1324 1671.3 L1370 1679.4 L1384.9 1679.4 L1387.9 1683.9 L1399.8 1683.9 L1405.7 1678.7 L1414.6 1669.8 L1419.9 1665.3 L1422.8 1672.7 L1423.6 1705.5 L1426.5 1727 L1431 1721.8 L1434 1710 L1437 1704 L1463 1704 L1468.2 1708.5 L1485.3 1708.5 L1500 1713 L1530.1 1719.4 L1621.7 1737.7 L1713.2 1756 L1804.8 1768.9 L1880.3 1775.3" fill="none" stroke="#0a06c4" stroke-width="5.4" stroke-linejoin="round" stroke-linecap="round"/>
<path d="M1524.7 1946.4 L1531.6 2015.1 L1536.2 1985.3 L1543 2001.4 L1545 1987.1 L1546.4 1994 L1548.2 1983.8 L1549.7 2003.2 L1550.9 1989.8 L1552.6 1998.2 L1554.1 1982.8 L1555.4 2006.6 L1556.7 1987.3 L1558.5 1987.3 L1559.6 1976.7 L1561.4 1989.7 L1562.9 1971.8 L1564.6 2009 L1566.3 1964.6 L1568 1995.8 L1568.2 1957.8 L1569.8 1972.7 L1571.6 2014.1 L1573.4 1987.4 L1575.1 2007 L1576.2 1995.1 L1577.5 1997.6 L1578.9 1987.9 L1579.9 2019.1 L1580.9 1997.1 L1582.4 2003.6 L1583.6 1989.4 L1584.6 2018.6 L1586.1 2000 L1587.9 2019.1 L1589.9 1999 L1591.4 2013.2 L1592.8 1996.7 L1594.7 2020.3 L1596.5 1984.3 L1597.8 2004.6 L1599.3 1996.5 L1600.8 2021.7 L1601.9 2001.1 L1603.4 2010.9 L1605.3 1993.3 L1606.7 2019.5 L1608.2 2009.9 L1609.6 2028.3 L1610.8 2003.8 L1611.8 2025 L1613.1 2010.1 L1614.1 2023.1 L1616 1999.8 L1617.6 2029.7 L1619.2 2011.2 L1620.6 2037.4 L1621.8 2017.1 L1623.4 2035.6 L1624.8 2012.3 L1626.5 2031.5 L1628.2 2028.6 L1629.9 2034.6 L1631.7 2016.7 L1632.9 2034.7 L1634.5 2017.4 L1635.9 2028.5 L1637.6 2007.1 L1639.1 2016.6 L1640.1 2014.1 L1641.2 2024.4 L1642.1 2013 L1643.3 2018.5 L1644.4 2017.1 L1646.1 2019.5 L1648 2005.5 L1649.4 2032.3 L1651.1 2007.4 L1652.9 2027 L1654.6 2017.6 L1656.1 2018.7 L1657.6 2005.8 L1659.3 2041.5 L1660.3 2008.4 L1661.8 2047 L1663.3 2009 L1665 2023.5 L1666.9 2007.4 L1668.4 2023.9 L1669.8 2005.1 L1670.9 2048.8 L1672.7 2008.3 L1673.6 2050.4 L1674.6 2010.7 L1676.1 2047.1 L1677.6 2014.9 L1679 2051 L1680.8 2011.4 L1682.5 2050.9 L1683.9 2006.2 L1684.8 2052 L1685.9 2022.2 L1687 2032.7 L1688 2022.9 L1688.9 2039.8 L1690.7 2017.2 L1691.5 2028.2 L1693.3 2012.3 L1694.2 2042.2 L1695.9 2012.1 L1696.9 2033.1 L1698.3 2022.9 L1699.2 2049.6 L1700.8 2017.5 L1702.1 2028.8 L1703.5 2013.8 L1705.1 2029.7 L1706.1 2004.3 L1707.5 2030.2 L1709 2015.4 L1710.2 2034.7 L1712 2017.5 L1713 2046.9 L1714.7 2019 L1716.5 2057.3 L1718.1 2009.7 L1719.4 2049.9 L1720.5 2023.2 L1722 2059.4 L1723.7 2032 L1724.9 2057.6 L1726.3 2034.3 L1727.3 2046.4 L1728.9 2035.2 L1730 2064.4 L1731.7 2032.7 L1733.1 2042.4 L1734.2 2035 L1736.1 2044.1 L1737 2025 L1738.8 2041.1 L1740.7 2023.6 L1742.5 2057.9 L1744.1 1994.3 L1745.4 2030.4 L1746.8 1973.9 L1747 1988.8 L1748.7 2013.8 L1749.8 1992.2 L1750.8 2041.7 L1752.6 1997.4 L1754 2023.1 L1755.1 2006.3 L1756.7 2048.5 L1758.5 2017.4 L1759.8 2037.6 L1761.4 2019.2 L1763.1 2045.3 L1764.6 2028.5 L1766.4 2041.1 L1768.1 2020.5 L1768.9 2068.5 L1770 2030.8 L1771.6 2074.1 L1772.9 2043.6 L1774.2 2052.7 L1775.6 2031.8 L1776.7 2068.8 L1778.3 2034.8 L1779.4 2078.6 L1780.5 2046.5 L1782.1 2071.9 L1784 2060 L1784.8 2063.4 L1785.8 2046.5 L1787 2087.2 L1788.9 2046.6 L1790.1 2069.6 L1791.9 2057.5 L1793.8 2095.4 L1795.1 2056.3 L1796.3 2065.5 L1797.9 2045.8 L1799.4 2070.2 L1800.5 2038.4 L1800.6 1918.9 L1802.2 2068.3 L1803.9 2043.5 L1805.1 2069.2 L1806.3 2051.8 L1807.8 2071.2 L1809.6 2040.6 L1810.6 2076.5 L1812.4 2063.2 L1814.2 2075.3 L1815.4 2053.2 L1816.5 2080 L1817.5 2072.1 L1819 2110.8 L1820.5 2074.6 L1822.4 2104 L1823.5 2066.9 L1824.8 2089.4 L1826.3 2077.6 L1827.5 2084.3 L1828.4 2067.3 L1829.5 2097.3 L1831.4 2066.2 L1832.7 2099.6 L1833.7 2081.3 L1835.6 2086.8 L1836.9 2084.2 L1837.8 2104.4 L1839.5 2091 L1840.6 2131.4 L1842.1 2096.9 L1842.4 2033.2 L1843.2 2107.3 L1844.6 2107.4 L1845.7 2143.9 L1847.6 2091.8 L1849 2141.2 L1849.8 2091.5 L1850.9 2132.3 L1852.3 2088.8 L1853.5 2135.8 L1855.3 2065.1 L1856.8 2107.8 L1858.7 2097 L1860.4 2131.1 L1861.3 1967 L1862.2 2074.4 L1863.4 2146 L1865 2076.9 L1866.8 2138.5 L1867.6 2104 L1869.3 2145.5 L1870.2 2073.6 L1871.1 2150.1 L1872 2089.4 L1873.2 2136.3 L1874.4 2086.4 L1875.8 2123.9 L1877.1 2097.7 L1878 2127.7 L1879.7 2094.9 L1881.1 2153.2 L1882.9 2116.4 L1884.7 2169.7 L1885.6 2099.1 L1887.4 2147.5 L1888.8 2111.5 L1889.8 2156.5 L1891.1 2133.1 L1892.2 2146.3 L1893.7 2142.6 L1895.1 2165.4 L1896.9 2155.1 L1897.8 2166.6 L1899.3 2139.8 L1900.6 2179.8 L1901.6 2149.9 L1903.4 2186.2 L1904.6 2141.7 L1905.8 2153.6 L1907.3 2133.1 L1909.1 2152.2 L1910.1 2136.1 L1911 2144.4 L1913 2138.5 L1914.2 2152.9 L1915.1 2143.8 L1916.8 2153.9 L1917.8 2144 L1919 2148.5 L1920.1 2144.3 L1921 2154.7 L1922.6 2148.1 L1924.4 2157.3 L1926.2 2148 L1927.4 2153.9 L1928.3 2153 L1929.8 2158.5 L1931.2 2149.2 L1932.1 2156.6 L1933.4 2149.9 L1934.5 2162.4 L1935.4 2155.3 L1936.7 2162.4 L1938.2 2157.5 L1940.2 2164.6 L1941.5 2161.6 L1943.2 2166.6 L1944.6 2160.1 L1946 2166.2 L1947.3 2160.4 L1948.7 2164.3 L1949.6 2163.1 L1950.7 2169.7 L1952.6 2163.9 L1953.5 2167 L1954.9 2163.1 L1956.3 2166.2 L1957.3 2165.9 L1957.5 2158.6 L1958.6 2172.4 L1960.5 2170.1 L1961.8 2176.3 L1962.9 2172.3 L1964.6 2177.3 L1966.3 2174 L1967.1 2175 L1968.6 2174.3 L1969.5 2176.7 L1971 2173.5 L1971.9 2177.5 L1973.4 2174.6 L1974.4 2177.1 L1975.3 2174.8 L1976.3 2178.1 L1978.2 2175.2 L1979.3 2179.3 L1981 2175.2 L1982.5 2180 L1983.5 2176.9 L1984.7 2179.2 L1986.1 2178 L1987.2 2179.1 L1989.2 2176.3 L1990.3 2180.7 L1991.7 2178.4 L1992.7 2181.3 L1993.9 2177.4 L1995.4 2180.2 L1996.6 2179.4 L1998.4 2181.6 L1999.9 2178.3 L2001.1 2182.2 L2002.8 2178.8 L2004.1 2182.3 L2005.6 2180.1 L2006.8 2182.2 L2007.7 2181.3 L2008.6 2181.9 L2010.5 2181.1 L2011.5 2182.2 L2012.8 2180.5 L2013.7 2182 L2014.6 2180.9 L2015.9 2165.5 L2016.1 2182.4 L2017.5 2181.3 L2018.9 2183.1 L2020 2181.9 L2021.9 2183.5 L2023.8 2182 L2025.2 2183.4 L2026.6 2182.1 L2028.5 2183.7 L2030.1 2182.8 L2031 2183.2 L2032.3 2182.2 L2033.7 2183.6 L2035.1 2182.7 L2036.2 2184.6 L2038.1 2182.8 L2039.6 2184.2" fill="none" stroke="#e01414" stroke-width="5.4" stroke-linejoin="round" stroke-linecap="round"/>
<path d="M318 1830.5 L510.3 1830.5 L574.4 1835 L638.5 1848.8 L675.2 1857 L721 1864.8 L766.8 1866.2 L812.6 1876.2 L844.6 1887.7 L880 1899 L881.3 1899.1 L910.9 1911 L935 1900.7 L959 1887 L969.3 1890.4 L1017.4 1916.2 L1024.2 1912.7 L1055.2 1876.7 L1065.5 1880.1 L1082.6 1904.1 L1089.5 1905.9 L1110.1 1933.3 L1127.3 1916.2 L1137.6 1919.6 L1161.6 1899 L1175.4 1902.4 L1190.8 1928.2 L1211.4 1895.6 L1223.4 1919.6 L1244.1 1900.7 L1257.8 1905.9 L1275 1923 L1281.8 1933.3 L1290.4 1919.6 L1302.4 1952.2 L1316.2 1907.6 L1326.5 1923 L1341.9 1953.9 L1359.1 1929.9 L1367.7 1947.1 L1381.4 1950.5 L1391.7 1933.3 L1398.6 1964.2 L1405.5 1936.8 L1415.8 1923 L1426.1 1960.8 L1439.8 1933.3 L1440 1937.2 L1449.2 1898.3 L1450.1 1899 L1456 1925.8 L1460.4 1950.5 L1465.2 1935 L1467.3 1933.3 L1474.3 1989.9 L1483.5 2019.7 L1488.1 1935 L1495 2019.7 L1501.8 1983 L1506.4 1962.4 L1513.3 1987.6 L1517.8 1953.3 L1524.7 1946.4 L1531.6 2015.1 L1536.2 1985.3 L1543 2001.4 L1545 1988.7 L1546.1 1994 L1548 1986.5 L1549.6 1998.1 L1550.9 1987.2 L1552.4 2002 L1553.9 1987.7 L1555.3 1992.2 L1556.3 1985.4 L1557.3 2001.2 L1558.8 1974.2 L1560.6 1989.4 L1562.4 1985.7 L1563.5 2004.4 L1565.1 1971.4 L1566.7 1990.8 L1568.6 1981.7 L1570.5 1991.6 L1571.7 1984.7 L1573.2 1997.5 L1575.1 1993.2 L1576.2 2000 L1577.8 1989.4 L1579.4 2009.3 L1580.7 1983.4 L1581.7 2010.2 L1583.3 1990.8 L1585 2013.8 L1586.8 1995.2 L1588 2004.7 L1589 1983.8 L1590.8 2021.4 L1592.4 1985.1 L1594 2004.8 L1595.9 1996.9 L1597.5 2016.3 L1598.8 2002.1 L1600.8 2010.3 L1602.1 2002.9 L1603.7 2015.8 L1605 2008.9 L1606.2 2014 L1607.8 2000.5 L1609.6 2018.3 L1611.5 2004.5 L1613.3 2028.5 L1615 2004.4 L1616 2017.3 L1617.1 2012.5 L1618 2022.4 L1619.5 2007.4 L1620.7 2025.1 L1622.3 2011.6 L1624.2 2034.7 L1625.9 2022.7 L1627.3 2042.5 L1629.1 2027.5 L1630 2038.4 L1631.9 2022.4 L1633.3 2036.4 L1634.3 2020.6 L1636 2023.7 L1637.4 2014.9 L1638.7 2032.1 L1640.6 2017.3 L1641.7 2021.3 L1643.5 2014.1 L1645.3 2036.2 L1646.5 2015.2 L1647.6 2036.6 L1649.3 2011.3 L1650.7 2034.9 L1651.8 2009.6 L1653.1 2023.9 L1654.5 2020.4 L1656.3 2022.6 L1658 2015.7 L1659.7 2022.5 L1661.4 2004.4 L1663.1 2031 L1664.4 2003.4 L1666.2 2028.2 L1668 2011.6 L1669 2040.9 L1670.4 2002.2 L1672.2 2031.5 L1673.1 2019.7 L1674.7 2035.3 L1675.8 2016 L1677.3 2043.6 L1678.7 2018.4 L1680.3 2032.3 L1681.3 2017.9 L1683 2047.6 L1684.8 2017.7 L1686.5 2031.7 L1687.7 2011 L1689.5 2054 L1691.1 2025.3 L1692.4 2049.7 L1693.3 2017.7 L1694.5 2051.9 L1695.6 2013.2 L1696.5 2051.8 L1697.7 2028.4 L1698.9 2052.1 L1699.9 2028.4 L1701.9 2053.6 L1703.5 2028.1 L1705.4 2056.4 L1706.5 2027.3 L1708.2 2040.4 L1709.2 2029.3 L1710.6 2045.9 L1712.4 2021.3 L1712.5 2060.9 L1713.6 2051.2 L1715 2018 L1716.6 2059.5 L1717.7 2031.5 L1719.4 2051.5 L1720.5 2030.5 L1721.6 2045.8 L1723.4 2024 L1724.4 2064.5 L1726.3 2027.1 L1727.6 2059 L1728.5 2079.2 L1729.3 2022 L1730.9 2049.9 L1732.7 2030 L1734.6 2053.8 L1736.2 2020.8 L1737.3 2047.6 L1738.5 2020.4 L1739.8 2037.1 L1741.3 2030.3 L1743.1 2045.9 L1745.1 2015 L1746.6 2034.2 L1746.8 1976.2 L1747.5 2015.5 L1749.4 2043.7 L1751 2017.3 L1752.9 2050.2 L1754.6 2005.9 L1756.5 2042.3 L1757.9 2021.5 L1759 2034.2 L1760.5 2030.8 L1761.5 2054.6 L1763.3 2032.8 L1764.8 2046 L1766.1 2018.2 L1768 2068.6 L1769.9 2039.7 L1771.3 2069.5 L1772.5 2034.3 L1774.4 2062.8 L1775.6 2043.8 L1776.5 2073.5 L1777.5 2054.2 L1778.4 2085.7 L1779.6 2055.3 L1780.6 2112.2 L1781.2 2111.3 L1781.3 2095.9 L1782.4 2062.7 L1783.4 2075.2 L1784.2 2049.6 L1785.1 2082.1 L1787 2058.3 L1788.6 2067.3 L1790.5 2048.6 L1792.4 2069.6 L1793.6 2064.1 L1795.3 2070.5 L1796.6 2053.8 L1797.8 2067.1 L1798.7 2051.7 L1800 2065.4 L1800.6 1932.7 L1801.4 2047.4 L1802.7 2069.6 L1803.7 2044 L1805 2063.7 L1806.4 2056.8 L1808.3 2080 L1810.1 2047.4 L1811.4 2068.3 L1812.5 2051.1 L1813.6 2079.3 L1815.5 2062.5 L1817.4 2093.5 L1819.1 2072 L1820.1 2131.1 L1820.6 2113.3 L1822.1 2070.9 L1822.4 2131.9 L1823.2 2088.7 L1824.5 2069 L1825.5 2115.8 L1826.3 2070.5 L1827.5 2097.3 L1829.2 2083.7 L1830.5 2104.4 L1832.4 2070.8 L1833.6 2095.9 L1835.4 2074.7 L1837.3 2095.5 L1838.9 2086 L1839.7 2103.1 L1841.5 2068.4 L1842.4 2112.7 L1843.9 2076.8 L1845.2 2140.8 L1845.9 2150 L1846.8 2088.8 L1848.1 2135.9 L1849.2 2099.8 L1850.9 2115.9 L1851.9 2091.7 L1853.5 2135.6 L1855.1 2106.4 L1856 2123.8 L1857.3 2102.2 L1858.4 2126.8 L1859.5 2098.6 L1861 2120.8 L1862.3 2108.5 L1864.1 2143.2 L1865.4 2103.7 L1867.1 2147.9 L1868.6 2130.2 L1870 2143.2 L1871.5 2114.4 L1873 2139.6 L1874.6 2129.5 L1876.2 2144.1 L1877.8 2140 L1879.8 2161.3 L1880.8 2140.2 L1881.8 2169.7 L1882.7 2128.6 L1884 2151.9 L1885.9 2151.9 L1887 2176.5 L1888.3 2153.7 L1889.3 2182.3 L1890.6 2145.7 L1891.9 2163.8 L1892.8 2154.4 L1894.3 2194.2 L1895.7 2156.4 L1896.9 2173.5 L1898.7 2168.8 L1899.9 2199.1 L1901.5 2170.7 L1902.5 2215.3 L1902.8 2208 L1904.7 2176.5 L1905.8 2196.9 L1907.3 2184.4 L1908.7 2201.1 L1909.7 2168.8 L1910.8 2208.3 L1911.9 2187.9 L1913.4 2201.8 L1914.6 2222.1 L1914.9 2194.1 L1915.7 2209.8 L1917.4 2196.4 L1918.6 2208.2 L1920.4 2187.8 L1922.1 2207.6 L1924 2190.9 L1924.9 2202.8 L1926.5 2197 L1928.2 2204.2 L1930 2198.3 L1931.6 2202.7 L1932.4 2197.6 L1933.3 2204 L1935.2 2197.1 L1936.8 2208.1 L1938 2200.8 L1939.9 2208.7 L1941.1 2204.5 L1942.7 2206.6 L1944.4 2205.1 L1946.2 2210.7 L1948 2205.6 L1949.6 2211.2 L1951.4 2206.5 L1953.4 2211.6 L1955.2 2208.7 L1956.9 2212.8 L1958.1 2209.6 L1959.9 2212.6 L1961.7 2211.5 L1963.5 2214.6 L1965.1 2212.4 L1966.4 2213.8 L1967.9 2213.4 L1969.3 2216 L1970.8 2212.9 L1972.3 2215.9 L1973.3 2213.7 L1975.2 2219.4 L1976.8 2217 L1977.8 2219.5 L1979.2 2215.8 L1980.7 2218.8 L1981.9 2216.8 L1983 2221.8 L1984.4 2218.5 L1985.4 2220.2 L1986.3 2219.3 L1987.8 2222.4 L1989.3 2219.1 L1990.6 2222.1 L1992.5 2220.8 L1994.2 2223.7 L1996.2 2221.9 L1997 2222.8 L1997.9 2222.6 L1999 2224.3 L2000.5 2221.8 L2001.6 2226 L2002.6 2223.6 L2004 2226 L2005.3 2223.9 L2006.9 2226 L2008.1 2224.1 L2009.8 2225.7 L2010.8 2224.6 L2012.5 2227.5 L2013.6 2226.3 L2015 2229 L2016.3 2227.1 L2017.8 2228.4 L2018.8 2227.4 L2019.8 2229.9 L2021.6 2226.8 L2023.3 2230.4 L2024.2 2228.6 L2026.1 2230.2 L2027.5 2228.8 L2028.6 2230.4 L2030.2 2230.4 L2031.2 2230.7 L2032.7 2229.8 L2034.5 2232 L2035.3 2230.5 L2036.6 2232.7 L2037.9 2231.1 L2039.8 2232.3" fill="none" stroke="#22e022" stroke-width="5.4" stroke-linejoin="round" stroke-linecap="round"/>
</g>
<path d="M357.5 1034.3V1008.3 M357.5 106.7V129.9 M392.5 1034.3V1008.3 M392.5 106.7V129.9 M422.7 1034.3V1008.3 M422.7 106.7V129.9 M449.4 1034.3V1008.3 M449.4 106.7V129.9 M473.3 1034.3V983.8 M473.3 106.7V154 M630.3 1034.3V1008.3 M630.3 106.7V129.9 M722.2 1034.3V1008.3 M722.2 106.7V129.9 M787.4 1034.3V1008.3 M787.4 106.7V129.9 M837.9 1034.3V1008.3 M837.9 106.7V129.9 M879.2 1034.3V1008.3 M879.2 106.7V129.9 M914.2 1034.3V1008.3 M914.2 106.7V129.9 M944.4 1034.3V1008.3 M944.4 106.7V129.9 M971.1 1034.3V1008.3 M971.1 106.7V129.9 M995 1034.3V983.8 M995 106.7V154 M1152 1034.3V1008.3 M1152 106.7V129.9 M1243.9 1034.3V1008.3 M1243.9 106.7V129.9 M1309.1 1034.3V1008.3 M1309.1 106.7V129.9 M1359.6 1034.3V1008.3 M1359.6 106.7V129.9 M1400.9 1034.3V1008.3 M1400.9 106.7V129.9 M1435.9 1034.3V1008.3 M1435.9 106.7V129.9 M1466.1 1034.3V1008.3 M1466.1 106.7V129.9 M1492.8 1034.3V1008.3 M1492.8 106.7V129.9 M1516.7 1034.3V983.8 M1516.7 106.7V154 M1673.7 1034.3V1008.3 M1673.7 106.7V129.9 M1765.6 1034.3V1008.3 M1765.6 106.7V129.9 M1830.8 1034.3V1008.3 M1830.8 106.7V129.9 M1881.3 1034.3V1008.3 M1881.3 106.7V129.9 M1922.7 1034.3V1008.3 M1922.7 106.7V129.9 M1957.6 1034.3V1008.3 M1957.6 106.7V129.9 M1987.8 1034.3V1008.3 M1987.8 106.7V129.9 M2014.5 1034.3V1008.3 M2014.5 106.7V129.9 M318 929.8H341 M2040.5 929.8H2014 M318 826.7H365.5 M2040.5 826.7H1989.2 M318 723.7H341 M2040.5 723.7H2014 M318 620.6H341 M2040.5 620.6H2014 M318 517.6H341 M2040.5 517.6H2014 M318 414.5H341 M2040.5 414.5H2014 M318 311.5H365.5 M2040.5 311.5H1989.2 M318 208.4H341 M2040.5 208.4H2014" stroke="#262626" stroke-width="2.2" fill="none"/>
<rect x="318" y="106.7" width="1722.5" height="927.6" fill="none" stroke="#262626" stroke-width="2.4"/>
<text x="141.9" y="345.9" font-size="64" fill="#262626" letter-spacing="3.5" font-family="'DejaVu Sans', 'Liberation Sans', sans-serif" font-weight="bold">10</text>
<text x="235.8" y="314.5" font-size="52" fill="#262626" letter-spacing="1.2" font-family="'DejaVu Sans', 'Liberation Sans', sans-serif" font-weight="bold">-5</text>
<text x="104.8" y="859" font-size="64" fill="#262626" letter-spacing="3.5" font-family="'DejaVu Sans', 'Liberation Sans', sans-serif" font-weight="bold">10</text>
<text x="199" y="828.5" font-size="52" fill="#262626" letter-spacing="1.2" font-family="'DejaVu Sans', 'Liberation Sans', sans-serif" font-weight="bold">-10</text>
<text x="407.9" y="1134.4" font-size="64" fill="#262626" letter-spacing="3.5" font-family="'DejaVu Sans', 'Liberation Sans', sans-serif" font-weight="bold">10</text>
<text x="502.8" y="1103" font-size="52" fill="#262626" font-family="'DejaVu Sans', 'Liberation Sans', sans-serif" font-weight="bold">0</text>
<text x="931" y="1134.4" font-size="64" fill="#262626" letter-spacing="3.5" font-family="'DejaVu Sans', 'Liberation Sans', sans-serif" font-weight="bold">10</text>
<text x="1024.8" y="1103" font-size="52" fill="#262626" font-family="'DejaVu Sans', 'Liberation Sans', sans-serif" font-weight="bold">1</text>
<text x="1450.5" y="1134.4" font-size="64" fill="#262626" letter-spacing="3.5" font-family="'DejaVu Sans', 'Liberation Sans', sans-serif" font-weight="bold">10</text>
<text x="1543.7" y="1103" font-size="52" fill="#262626" font-family="'DejaVu Sans', 'Liberation Sans', sans-serif" font-weight="bold">2</text>
<text x="1973.2" y="1134.4" font-size="64" fill="#262626" letter-spacing="3.5" font-family="'DejaVu Sans', 'Liberation Sans', sans-serif" font-weight="bold">10</text>
<text x="2067.3" y="1103" font-size="52" fill="#262626" font-family="'DejaVu Sans', 'Liberation Sans', sans-serif" font-weight="bold">3</text>
<path d="M357.5 2324.1V2298.1 M357.5 1396.7V1419.9 M392.5 2324.1V2298.1 M392.5 1396.7V1419.9 M422.7 2324.1V2298.1 M422.7 1396.7V1419.9 M449.4 2324.1V2298.1 M449.4 1396.7V1419.9 M473.3 2324.1V2273.6 M473.3 1396.7V1444 M630.3 2324.1V2298.1 M630.3 1396.7V1419.9 M722.2 2324.1V2298.1 M722.2 1396.7V1419.9 M787.4 2324.1V2298.1 M787.4 1396.7V1419.9 M837.9 2324.1V2298.1 M837.9 1396.7V1419.9 M879.2 2324.1V2298.1 M879.2 1396.7V1419.9 M914.2 2324.1V2298.1 M914.2 1396.7V1419.9 M944.4 2324.1V2298.1 M944.4 1396.7V1419.9 M971.1 2324.1V2298.1 M971.1 1396.7V1419.9 M995 2324.1V2273.6 M995 1396.7V1444 M1152 2324.1V2298.1 M1152 1396.7V1419.9 M1243.9 2324.1V2298.1 M1243.9 1396.7V1419.9 M1309.1 2324.1V2298.1 M1309.1 1396.7V1419.9 M1359.6 2324.1V2298.1 M1359.6 1396.7V1419.9 M1400.9 2324.1V2298.1 M1400.9 1396.7V1419.9 M1435.9 2324.1V2298.1 M1435.9 1396.7V1419.9 M1466.1 2324.1V2298.1 M1466.1 1396.7V1419.9 M1492.8 2324.1V2298.1 M1492.8 1396.7V1419.9 M1516.7 2324.1V2273.6 M1516.7 1396.7V1444 M1673.7 2324.1V2298.1 M1673.7 1396.7V1419.9 M1765.6 2324.1V2298.1 M1765.6 1396.7V1419.9 M1830.8 2324.1V2298.1 M1830.8 1396.7V1419.9 M1881.3 2324.1V2298.1 M1881.3 1396.7V1419.9 M1922.7 2324.1V2298.1 M1922.7 1396.7V1419.9 M1957.6 2324.1V2298.1 M1957.6 1396.7V1419.9 M1987.8 2324.1V2298.1 M1987.8 1396.7V1419.9 M2014.5 2324.1V2298.1 M2014.5 1396.7V1419.9 M318 2266H341 M2040.5 2266H2014 M318 2207.9H365.5 M2040.5 2207.9H1989.2 M318 2149.8H341 M2040.5 2149.8H2014 M318 2091.7H341 M2040.5 2091.7H2014 M318 2033.6H341 M2040.5 2033.6H2014 M318 1975.5H341 M2040.5 1975.5H2014 M318 1917.4H365.5 M2040.5 1917.4H1989.2 M318 1859.3H341 M2040.5 1859.3H2014 M318 1801.2H341 M2040.5 1801.2H2014 M318 1743.1H341 M2040.5 1743.1H2014 M318 1685H341 M2040.5 1685H2014 M318 1626.9H365.5 M2040.5 1626.9H1989.2 M318 1568.8H341 M2040.5 1568.8H2014 M318 1510.7H341 M2040.5 1510.7H2014 M318 1452.6H341 M2040.5 1452.6H2014" stroke="#262626" stroke-width="2.2" fill="none"/>
<rect x="318" y="1396.7" width="1722.5" height="927.4" fill="none" stroke="#262626" stroke-width="2.4"/>
<text x="141.9" y="1660.1" font-size="64" fill="#262626" letter-spacing="3.5" font-family="'DejaVu Sans', 'Liberation Sans', sans-serif" font-weight="bold">10</text>
<text x="235.8" y="1629.5" font-size="52" fill="#262626" letter-spacing="1.2" font-family="'DejaVu Sans', 'Liberation Sans', sans-serif" font-weight="bold">-5</text>
<text x="105" y="1951.4" font-size="64" fill="#262626" letter-spacing="3.5" font-family="'DejaVu Sans', 'Liberation Sans', sans-serif" font-weight="bold">10</text>
<text x="199" y="1920.5" font-size="52" fill="#262626" letter-spacing="1.2" font-family="'DejaVu Sans', 'Liberation Sans', sans-serif" font-weight="bold">-10</text>
<text x="104.8" y="2239" font-size="64" fill="#262626" letter-spacing="3.5" font-family="'DejaVu Sans', 'Liberation Sans', sans-serif" font-weight="bold">10</text>
<text x="199" y="2208.5" font-size="52" fill="#262626" letter-spacing="1.2" font-family="'DejaVu Sans', 'Liberation Sans', sans-serif" font-weight="bold">-15</text>
<text x="407.9" y="2424.4" font-size="64" fill="#262626" letter-spacing="3.5" font-family="'DejaVu Sans', 'Liberation Sans', sans-serif" font-weight="bold">10</text>
<text x="502.8" y="2393" font-size="52" fill="#262626" font-family="'DejaVu Sans', 'Liberation Sans', sans-serif" font-weight="bold">0</text>
<text x="931" y="2424.4" font-size="64" fill="#262626" letter-spacing="3.5" font-family="'DejaVu Sans', 'Liberation Sans', sans-serif" font-weight="bold">10</text>
<text x="1024.8" y="2393" font-size="52" fill="#262626" font-family="'DejaVu Sans', 'Liberation Sans', sans-serif" font-weight="bold">1</text>
<text x="1450.5" y="2424.4" font-size="64" fill="#262626" letter-spacing="3.5" font-family="'DejaVu Sans', 'Liberation Sans', sans-serif" font-weight="bold">10</text>
<text x="1543.7" y="2393" font-size="52" fill="#262626" font-family="'DejaVu Sans', 'Liberation Sans', sans-serif" font-weight="bold">2</text>
<text x="1973.2" y="2424.4" font-size="64" fill="#262626" letter-spacing="3.5" font-family="'DejaVu Sans', 'Liberation Sans', sans-serif" font-weight="bold">10</text>
<text x="2067.3" y="2393" font-size="52" fill="#262626" font-family="'DejaVu Sans', 'Liberation Sans', sans-serif" font-weight="bold">3</text>
<text x="1178" y="73.9" font-size="72" fill="#000" text-anchor="middle" font-family="'DejaVu Sans', 'Liberation Sans', sans-serif" font-weight="bold">(a): P; fc=400 Hz</text>
<text x="1180.3" y="1363.4" font-size="72" fill="#000" text-anchor="middle" font-family="'DejaVu Sans', 'Liberation Sans', sans-serif" font-weight="bold">(b): TW; fc=400 Hz</text>
<text x="1178.8" y="1221.8" font-size="72" fill="#262626" text-anchor="middle" font-family="'DejaVu Sans', 'Liberation Sans', sans-serif" font-weight="bold">f [Hz]</text>
<text transform="translate(74.5 572.9) rotate(-90)" x="0" y="0" font-size="72" fill="#262626" text-anchor="middle" font-family="'DejaVu Sans', 'Liberation Sans', sans-serif" font-weight="bold">Amplitude</text>
<text x="1178.8" y="2511.8" font-size="72" fill="#262626" text-anchor="middle" font-family="'DejaVu Sans', 'Liberation Sans', sans-serif" font-weight="bold">f [Hz]</text>
<text transform="translate(74.5 1862.9) rotate(-90)" x="0" y="0" font-size="72" fill="#262626" text-anchor="middle" font-family="'DejaVu Sans', 'Liberation Sans', sans-serif" font-weight="bold">Amplitude</text>
<rect x="351.7" y="700.1" width="502.1" height="299.2" fill="#fff" stroke="#262626" stroke-width="2"/>
<path d="M360 740.3H483" stroke="#000" stroke-width="8.2"/>
<text x="493" y="762.8" font-size="58.7" fill="#000" text-anchor="start" font-family="'DejaVu Sans', 'Liberation Sans', sans-serif" font-weight="bold">Original</text>
<path d="M360 812.3H483" stroke="#1000d8" stroke-width="8.2"/>
<text x="493" y="834.8" font-size="58.7" fill="#000" text-anchor="start" font-family="'DejaVu Sans', 'Liberation Sans', sans-serif" font-weight="bold">DMD-1kHz</text>
<path d="M360 885.6H483" stroke="#e01414" stroke-width="8.2"/>
<text x="493" y="908.1" font-size="58.7" fill="#000" text-anchor="start" font-family="'DejaVu Sans', 'Liberation Sans', sans-serif" font-weight="bold">DMD-2kHz</text>
<path d="M360 957.6H483" stroke="#22e022" stroke-width="8.2"/>
<text x="493" y="980.1" font-size="58.7" fill="#000" text-anchor="start" font-family="'DejaVu Sans', 'Liberation Sans', sans-serif" font-weight="bold">DMD-5kHz</text>
<rect x="351.7" y="1990.1" width="502.1" height="299.2" fill="#fff" stroke="#262626" stroke-width="2"/>
<path d="M360 2030.3H483" stroke="#000" stroke-width="8.2"/>
<text x="493" y="2052.8" font-size="58.7" fill="#000" text-anchor="start" font-family="'DejaVu Sans', 'Liberation Sans', sans-serif" font-weight="bold">Original</text>
<path d="M360 2102.3H483" stroke="#1000d8" stroke-width="8.2"/>
<text x="493" y="2124.8" font-size="58.7" fill="#000" text-anchor="start" font-family="'DejaVu Sans', 'Liberation Sans', sans-serif" font-weight="bold">DMD-1kHz</text>
<path d="M360 2175.6H483" stroke="#e01414" stroke-width="8.2"/>
<text x="493" y="2198.1" font-size="58.7" fill="#000" text-anchor="start" font-family="'DejaVu Sans', 'Liberation Sans', sans-serif" font-weight="bold">DMD-2kHz</text>
<path d="M360 2247.6H483" stroke="#22e022" stroke-width="8.2"/>
<text x="493" y="2270.1" font-size="58.7" fill="#000" text-anchor="start" font-family="'DejaVu Sans', 'Liberation Sans', sans-serif" font-weight="bold">DMD-5kHz</text>
</svg>
</body></html>
